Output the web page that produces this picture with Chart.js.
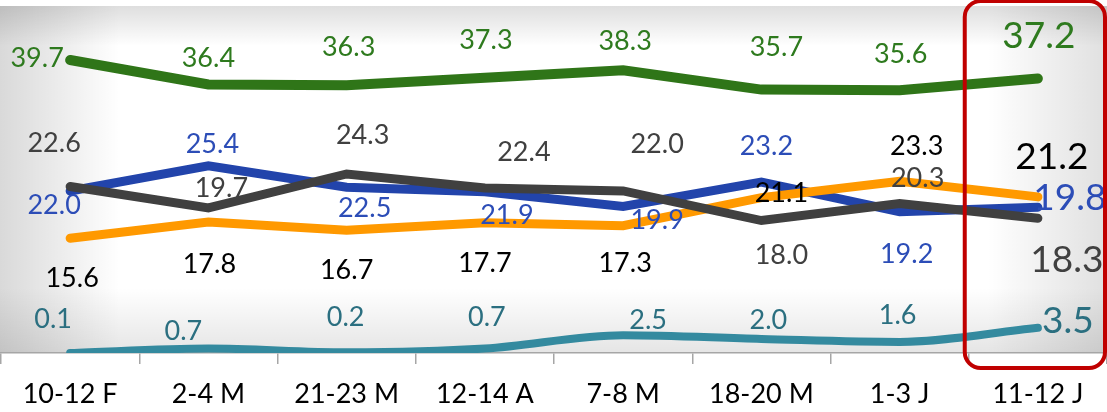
<!DOCTYPE html>
<html>
<head>
<meta charset="utf-8">
<script src="https://cdn.jsdelivr.net/npm/chart.js@4.4.0/dist/chart.umd.min.js"></script>
<style>
  html, body { margin: 0; padding: 0; background: #ffffff; }
  #wrap { width: 1107px; height: 412px; position: relative; }
</style>
</head>
<body>
<div id="wrap"><canvas id="c"></canvas></div>
<script>
// ---- data ----
const categories = ["10-12 F", "2-4 M", "21-23 M", "12-14 A", "7-8 M", "18-20 M", "1-3 J", "11-12 J"];
const greenSeries  = [39.7, 36.4, 36.3, 37.3, 38.3, 35.7, 35.6, 37.2];
const blueSeries   = [22.0, 25.4, 22.5, 21.9, 19.9, 23.2, 19.2, 19.8];
const graySeries   = [22.6, 19.7, 24.3, 22.4, 22.0, 18.0, 20.3, 18.3];
const orangeSeries = [15.6, 17.8, 16.7, 17.7, 17.3, 21.1, 23.3, 21.2];
const tealSeries   = [0.1, 0.7, 0.2, 0.7, 2.5, 2.0, 1.6, 3.5];

// ---- label placement (offsets relative to each point, in px) ----
const labelStyle = {
  gray:   { color: '#404040', dx: [-16, 13, 16, 39, 34, 20, 18, 29], dy: [-43, -20, -39, -36, -47, 35, -25, 42] },
  orange: { color: '#000000', dx: [2, 1, 0, 0, 2, 20, 17, 14],       dy: [40, 42, 40, 41, 38, -4, -35, -40] },
  blue:   { color: '#2c4db7', dx: [-16, 4, 18, 22, 34, 5, 7, 32],     dy: [14, -22, 21, 24, 14, -36, 43, -9] },
  teal:   { color: '#2b6f80', dx: [-17, -25, -1, 2, 25, 7, -2, 30],   dy: [-34, -17, -35, -31, -15, -19, -27, -7] },
  green:  { color: '#2e7a1e', dx: [-33, 0, 2, 1, 2, 15, 1, 1],        dy: [-2, -26, -38, -37, -29, -42, -36, -42] }
};

const FONT = 'Lato, "Open Sans", "DejaVu Sans", sans-serif';

const bgPlugin = {
  id: 'bg',
  beforeDraw(chart) {
    const ctx = chart.ctx, a = chart.chartArea;
    const W = chart.width;
    const top = a.top, bot = a.bottom;
    ctx.save();
    ctx.fillStyle = '#ffffff';
    ctx.fillRect(0, top, W, bot - top);
    let g;
    g = ctx.createLinearGradient(0, 0, 120, 0);
    g.addColorStop(0, 'rgba(0,0,0,0.15)'); g.addColorStop(1, 'rgba(0,0,0,0)');
    ctx.fillStyle = g; ctx.fillRect(0, top, 120, bot - top);
    g = ctx.createLinearGradient(W, 0, W - 120, 0);
    g.addColorStop(0, 'rgba(0,0,0,0.12)'); g.addColorStop(1, 'rgba(0,0,0,0)');
    ctx.fillStyle = g; ctx.fillRect(W - 120, top, 120, bot - top);
    g = ctx.createLinearGradient(0, top, 0, top + 40);
    g.addColorStop(0, 'rgba(0,0,0,0.13)'); g.addColorStop(1, 'rgba(0,0,0,0)');
    ctx.fillStyle = g; ctx.fillRect(0, top, W, 40);
    g = ctx.createLinearGradient(0, bot, 0, bot - 65);
    g.addColorStop(0, 'rgba(0,0,0,0.10)'); g.addColorStop(1, 'rgba(0,0,0,0)');
    ctx.fillStyle = g; ctx.fillRect(0, bot - 65, W, 65);
    ctx.restore();
  }
};

const labelPlugin = {
  id: 'vlabels',
  afterDatasetsDraw(chart) {
    const ctx = chart.ctx;
    ctx.save();
    ctx.textAlign = 'center';
    ctx.textBaseline = 'middle';
    chart.data.datasets.forEach((ds, di) => {
      const st = labelStyle[ds.key];
      const meta = chart.getDatasetMeta(di);
      meta.data.forEach((pt, i) => {
        const last = i === ds.data.length - 1;
        ctx.font = (last ? '37px ' : '27px ') + FONT;
        ctx.fillStyle = st.color;
        ctx.fillText(ds.data[i].toFixed(1), pt.x + st.dx[i], pt.y + st.dy[i]);
      });
    });
    ctx.restore();
  }
};

const boxPlugin = {
  id: 'box',
  afterDraw(chart) {
    const ctx = chart.ctx, xs = chart.scales.x, a = chart.chartArea;
    const cx = xs.getPixelForValue(categories.length - 1);
    const half = (xs.getPixelForValue(1) - xs.getPixelForValue(0)) / 2;
    const left = cx - half - 4, right = chart.width - 2;
    const top = 1, bottom = a.bottom + 15;
    ctx.save();
    ctx.strokeStyle = '#c00000';
    ctx.lineWidth = 4;
    ctx.beginPath();
    ctx.roundRect(left, top, right - left, bottom - top, 16);
    ctx.stroke();
    ctx.restore();
  }
};

function ds(key, data, color, width, extra) {
  return Object.assign({
    key, data,
    borderColor: color, backgroundColor: color,
    borderWidth: width, pointRadius: 0, pointHoverRadius: 0,
    borderCapStyle: 'round', borderJoinStyle: 'miter',
    tension: 0, fill: false
  }, extra || {});
}

new Chart(document.getElementById('c'), {
  type: 'line',
  data: {
    labels: categories,
    datasets: [
      ds('gray', graySeries, '#404040', 9),
      ds('orange', orangeSeries, '#ff9900', 9),
      ds('blue', blueSeries, '#2244ab', 9),
      ds('teal', tealSeries, '#348a9f', 8, { cubicInterpolationMode: 'monotone', borderJoinStyle: 'round' }),
      ds('green', greenSeries, '#2f7518', 10)
    ]
  },
  options: {
    responsive: true,
    maintainAspectRatio: false,
    animation: false,
    events: [],
    layout: { padding: { top: 6, left: 1, right: 0, bottom: 0 } },
    plugins: { legend: { display: false }, tooltip: { enabled: false } },
    scales: {
      x: {
        type: 'category',
        offset: true,
        grid: { offset: true, drawOnChartArea: false, drawTicks: true, tickLength: 11, color: '#a6a6a6', lineWidth: 1.5 },
        border: { display: true, color: '#a6a6a6', width: 1.5 },
        ticks: { color: '#000000', font: { family: FONT, size: 27 }, padding: 14, maxRotation: 0, autoSkip: false },
        afterFit(scale) { scale.height = 59; }
      },
      y: {
        display: false,
        min: 0.1,
        max: 47.0
      }
    }
  },
  plugins: [bgPlugin, labelPlugin, boxPlugin]
});
</script>
</body>
</html>
